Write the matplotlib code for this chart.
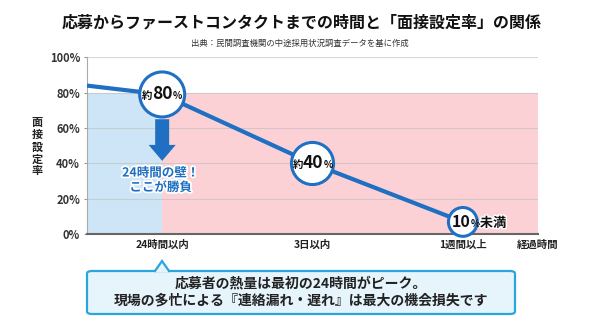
import matplotlib
matplotlib.use("Agg")
import matplotlib.pyplot as plt
from matplotlib.patches import FancyBboxPatch, Polygon, FancyArrow
from matplotlib.offsetbox import TextArea, HPacker, AnnotationBbox
import matplotlib.patheffects as pe

plt.rcParams['font.family'] = ['Noto Sans CJK JP', 'DejaVu Sans']

# ---- data ----
title = "応募からファーストコンタクトまでの時間と「面接設定率」の関係"
subtitle = "出典：民間調査機関の中途採用状況調査データを基に作成"
categories = ["24時間以内", "3日以内", "1週間以上"]
axis_name = "経過時間"
cat_pos = [0, 1, 2]
line_pos = [-0.5, 0, 1, 2]
line_vals = [84, 79, 40, 7]
marker_pos = [0, 1, 2]
marker_vals = [79, 40, 7]
marker_prefix = ["約", "約", ""]
marker_nums = ["80", "40", "10"]
marker_suffix = ["", "", "未満"]
zone_edges = [-0.5, 0, 2.5]
zone_top = 80
zone_colors = ["#cde5f6", "#fbd1d5"]
yticks = [0, 20, 40, 60, 80, 100]
ylabel = "面接設定率"
wall_text = "24時間の壁！\nここが勝負"
callout_lines = ["応募者の熱量は最初の24時間がピーク。",
                 "現場の多忙による『連絡漏れ・遅れ』は最大の機会損失です"]

BLUE = "#1f6fc2"

fig = plt.figure(figsize=(6, 3.34), dpi=100)
fig.patch.set_facecolor("white")
ax = fig.add_axes([0.145, 0.2985, 0.7517, 0.53])

# zones
for i in range(len(zone_colors)):
    ax.fill_between([zone_edges[i], zone_edges[i + 1]], 0, zone_top,
                    color=zone_colors[i], lw=0, zorder=0)

# grid
for t in yticks[1:]:
    ax.axhline(t, color="#bdbdbd", lw=0.8, alpha=0.6, zorder=1)

ax.set_xlim(zone_edges[0], zone_edges[-1])
ax.set_ylim(0, 100)
ax.set_yticks(yticks)
ax.set_yticklabels([f"{t}%" for t in yticks], fontsize=8, fontweight="bold", color="#333333")
ax.set_xticks(cat_pos + [zone_edges[-1]])
ax.set_xticklabels(categories + [axis_name], fontsize=7.5, fontweight="bold", color="#222222")
ax.tick_params(axis="x", length=0, pad=4)
ax.tick_params(axis="y", length=2, color="#999999", pad=3)
for s in ["top", "right"]:
    ax.spines[s].set_visible(False)
ax.spines["left"].set_color("#aaaaaa")
ax.spines["left"].set_linewidth(0.8)
ax.spines["bottom"].set_color("#666666")
ax.spines["bottom"].set_linewidth(1.5)

# line
ax.plot(line_pos, line_vals, color=BLUE, lw=3, zorder=3, solid_capstyle="butt")

# markers
sizes = [1050, 920, 430]
ax.scatter(marker_pos, marker_vals, s=sizes, facecolor="white", edgecolor=BLUE,
           linewidths=2.2, zorder=4, clip_on=False)

# marker labels
num_sizes = [12.5, 12.5, 11.5]
for i in range(len(marker_pos)):
    children = []
    if marker_prefix[i]:
        children.append(TextArea(marker_prefix[i], textprops=dict(fontsize=7.5, fontweight="bold", color="#111111")))
    children.append(TextArea(marker_nums[i], textprops=dict(fontsize=num_sizes[i], fontweight="bold", color="#111111")))
    children.append(TextArea("%", textprops=dict(fontsize=7, fontweight="bold", color="#111111")))
    if marker_suffix[i]:
        children.append(TextArea(marker_suffix[i], textprops=dict(
            fontsize=9.5, fontweight="bold", color="#111111",
            path_effects=[pe.withStroke(linewidth=2, foreground="white")])))
    pack = HPacker(children=children, align="baseline", pad=0, sep=0)
    if marker_suffix[i]:
        ab = AnnotationBbox(pack, (marker_pos[i], marker_vals[i]), xybox=(-8, 0),
                            xycoords="data", boxcoords="offset points",
                            box_alignment=(0, 0.5), frameon=False, pad=0, zorder=5)
    else:
        ab = AnnotationBbox(pack, (marker_pos[i], marker_vals[i]), xybox=(0, 0),
                            xycoords="data", boxcoords="offset points",
                            box_alignment=(0.5, 0.5), frameon=False, pad=0, zorder=5)
    ab.set_clip_on(False)
    ax.add_artist(ab)

# arrow
arrow = FancyArrow(0, 65, 0, -23.5, width=0.093, head_width=0.18, head_length=9,
                   length_includes_head=True, color=BLUE, lw=0, zorder=3)
ax.add_patch(arrow)
ax.text(-0.01, 30.5, wall_text, ha="center", va="center", fontsize=9, fontweight="bold",
        color=BLUE, linespacing=1.15, zorder=5,
        path_effects=[pe.withStroke(linewidth=2.5, foreground="white")])

# titles
fig.text(0.502, 0.934, title, ha="center", va="center", fontsize=11.5, fontweight="bold", color="#111111")
fig.text(0.5, 0.871, subtitle, ha="center", va="center", fontsize=6, color="#333333")

# y label stacked
fig.text(0.062, 0.56, "\n".join(ylabel), ha="center", va="center", fontsize=8,
         fontweight="bold", color="#222222", linespacing=0.9)

# callout
x0, x1 = 87 / 600, 515 / 600
y0, y1 = 1 - 314 / 334, 1 - 271 / 334
box = FancyBboxPatch((x0, y0), x1 - x0, y1 - y0,
                     boxstyle="round,pad=0,rounding_size=0.008",
                     transform=fig.transFigure, facecolor="#e6f4fc",
                     edgecolor="#2aa5dd", lw=1.6, zorder=2)
fig.patches.append(box)
tip = (162 / 600, 1 - 261 / 334)
bl = (155 / 600, y1)
br = (169 / 600, y1)
tri = Polygon([bl, tip, br], closed=True, transform=fig.transFigure,
              facecolor="#e6f4fc", edgecolor="none", zorder=3)
fig.patches.append(tri)
cover = Polygon([(bl[0] + 0.001, y1 - 0.004), (bl[0] + 0.001, y1 + 0.002),
                 (br[0] - 0.001, y1 + 0.002), (br[0] - 0.001, y1 - 0.004)], closed=True,
                transform=fig.transFigure, facecolor="#e6f4fc", edgecolor="none", zorder=3)
fig.patches.append(cover)
fig.lines.append(plt.Line2D([bl[0], tip[0], br[0]], [bl[1], tip[1], br[1]],
                            transform=fig.transFigure, color="#2aa5dd", lw=1.6, zorder=4,
                            solid_joinstyle="miter"))
fig.text(0.502, 1 - 283 / 334, callout_lines[0], ha="center", va="center", fontsize=10,
         fontweight="bold", color="#222222", zorder=5)
fig.text(0.502, 1 - 300 / 334, callout_lines[1], ha="center", va="center", fontsize=10,
         fontweight="bold", color="#222222", zorder=5)

fig.savefig("out.png", dpi=100, facecolor="white")
